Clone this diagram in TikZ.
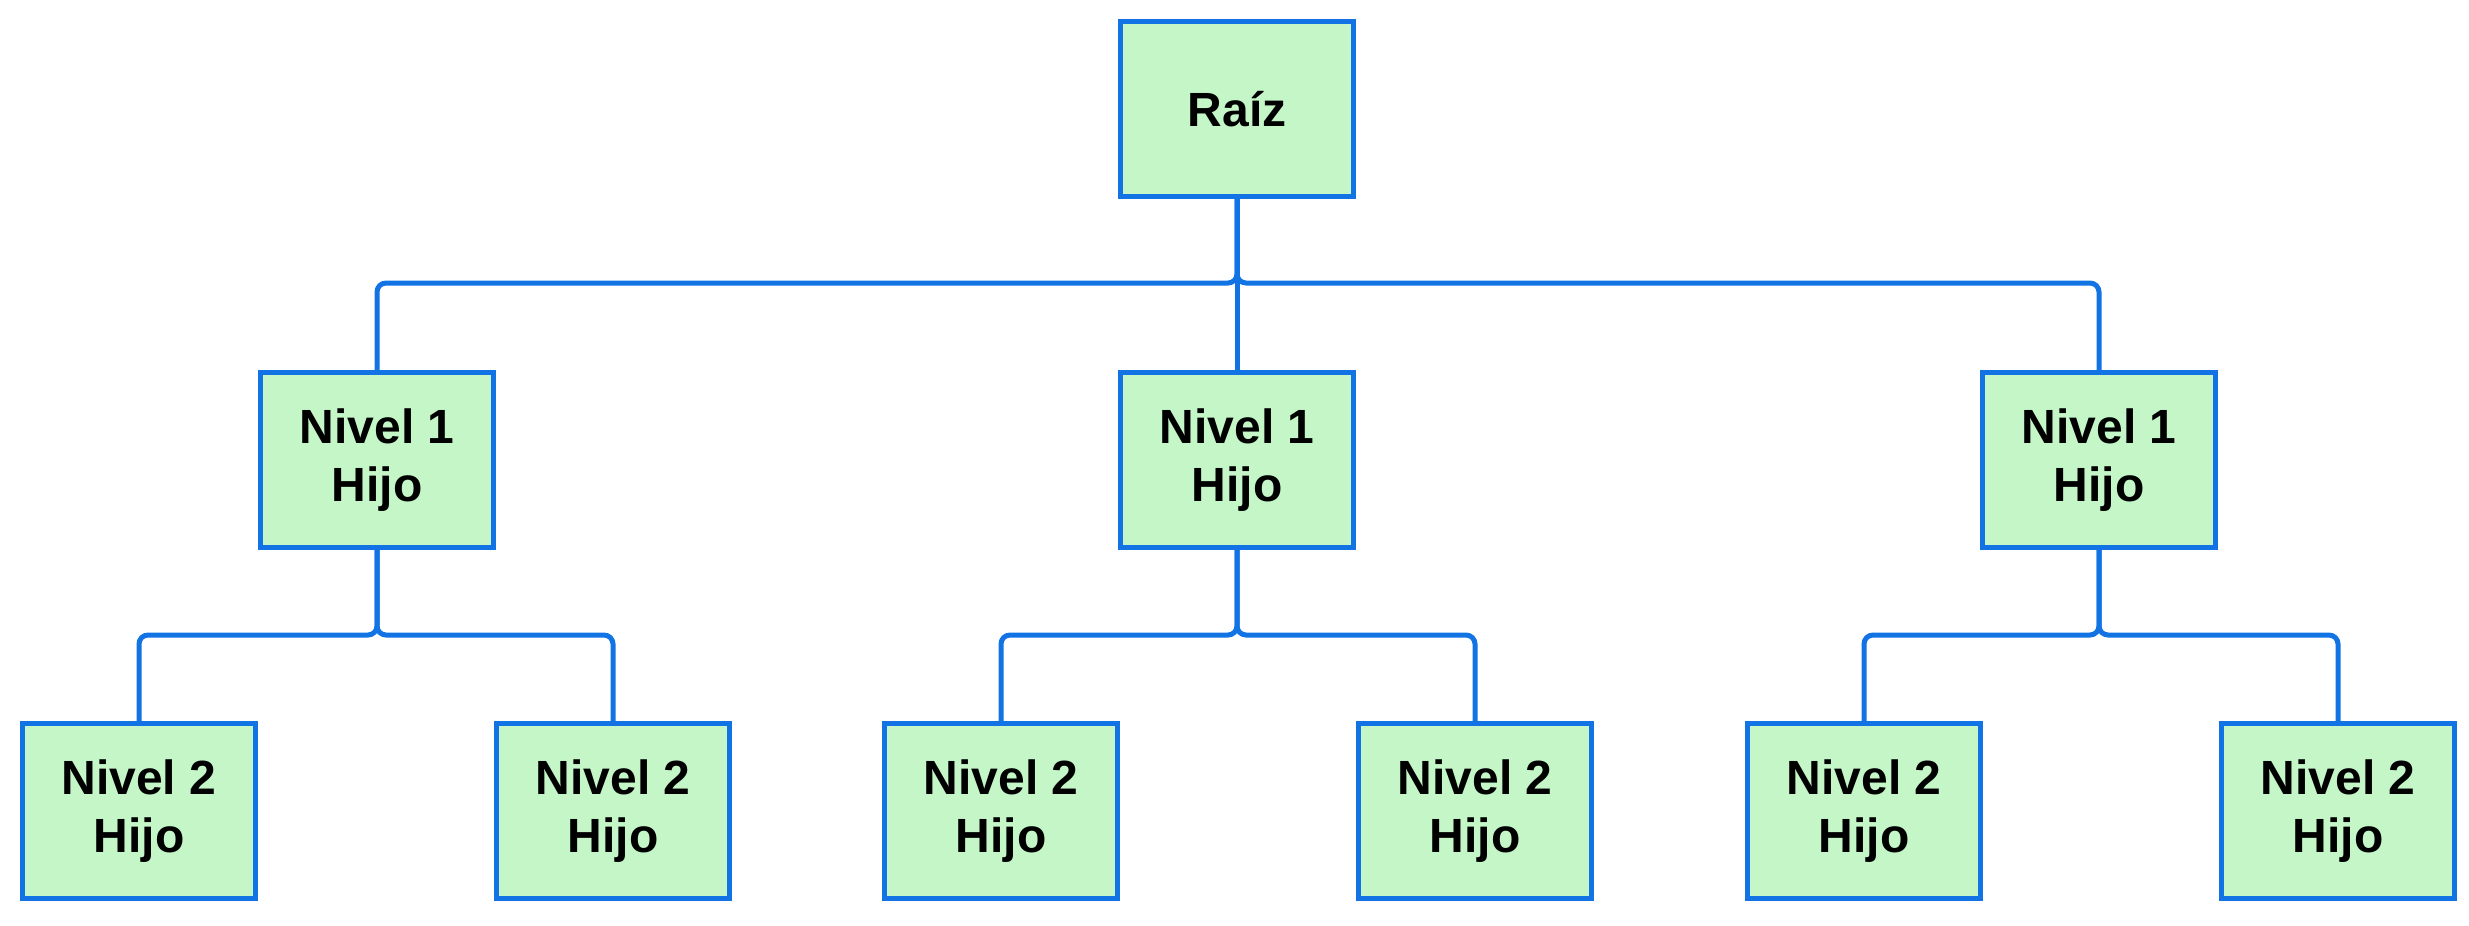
\documentclass[tikz,border=0pt]{standalone}
\usepackage{fontspec}
\setmainfont{Liberation Sans}
\definecolor{boxblue}{HTML}{1173E4}
\definecolor{boxgreen}{HTML}{C4F6C8}
\tikzset{
  box/.style={draw=boxblue, fill=boxgreen, line width=2.5pt, minimum width=116.5pt, minimum height=87.5pt,
    inner sep=0pt, align=center, font=\fontsize{24}{29}\selectfont\bfseries},
  conn/.style={draw=boxblue, line width=2.5pt, rounded corners=4.5pt}
}
\begin{document}
\begin{tikzpicture}[x=0.5pt,y=-0.5pt]
\useasboundingbox (0,0) rectangle (2469,926);
\node[box] (r) at (1237,109) {Raíz};
\node[box] (a) at (377,460) {Nivel 1\\Hijo};
\node[box] (b) at (1237,460) {Nivel 1\\Hijo};
\node[box] (c) at (2099,460) {Nivel 1\\Hijo};
\node[box] (a1) at (139,811) {Nivel 2\\Hijo};
\node[box] (a2) at (613,811) {Nivel 2\\Hijo};
\node[box] (b1) at (1001,811) {Nivel 2\\Hijo};
\node[box] (b2) at (1475,811) {Nivel 2\\Hijo};
\node[box] (c1) at (1864,811) {Nivel 2\\Hijo};
\node[box] (c2) at (2338,811) {Nivel 2\\Hijo};
\coordinate (bus1) at (0,283);
\coordinate (bus2) at (0,635);
\draw[conn] (r.south) -- (r.south |- bus1) -| (a.north);
\draw[conn] (r.south) -- (b.north);
\draw[conn] (r.south) -- (r.south |- bus1) -| (c.north);
\foreach \p/\u/\v in {a/a1/a2, b/b1/b2, c/c1/c2}{
  \draw[conn] (\p.south) -- (\p.south |- bus2) -| (\u.north);
  \draw[conn] (\p.south) -- (\p.south |- bus2) -| (\v.north);
}
\end{tikzpicture}
\end{document}
